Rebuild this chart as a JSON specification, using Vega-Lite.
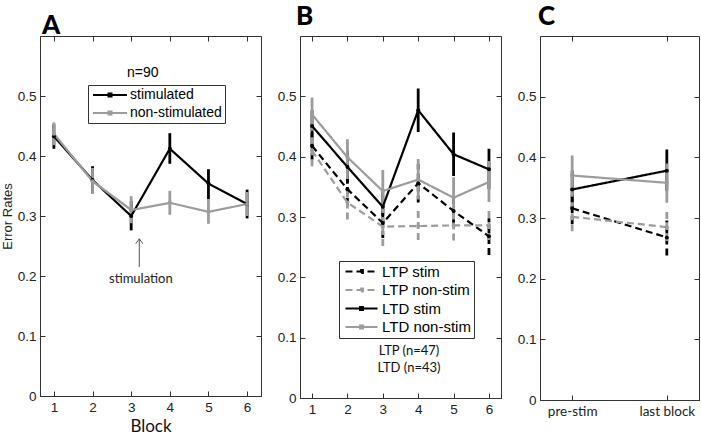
{
  "$schema": "https://vega.github.io/schema/vega-lite/v6.json",
  "background": "white",
  "padding": {"left": 0, "top": 3, "right": 0, "bottom": 0},
  "spacing": 39,
  "bounds": "flush",
  "datasets": {
    "A": [
      {"block": 1, "group": "stimulated", "mean": 0.433, "lo": 0.412, "hi": 0.453},
      {"block": 2, "group": "stimulated", "mean": 0.36, "lo": 0.338, "hi": 0.383},
      {"block": 3, "group": "stimulated", "mean": 0.30, "lo": 0.276, "hi": 0.325},
      {"block": 4, "group": "stimulated", "mean": 0.412, "lo": 0.387, "hi": 0.438},
      {"block": 5, "group": "stimulated", "mean": 0.354, "lo": 0.328, "hi": 0.378},
      {"block": 6, "group": "stimulated", "mean": 0.32, "lo": 0.296, "hi": 0.344},
      {"block": 1, "group": "non-stimulated", "mean": 0.437, "lo": 0.418, "hi": 0.456},
      {"block": 2, "group": "non-stimulated", "mean": 0.358, "lo": 0.337, "hi": 0.38},
      {"block": 3, "group": "non-stimulated", "mean": 0.31, "lo": 0.288, "hi": 0.333},
      {"block": 4, "group": "non-stimulated", "mean": 0.322, "lo": 0.302, "hi": 0.342},
      {"block": 5, "group": "non-stimulated", "mean": 0.307, "lo": 0.287, "hi": 0.328},
      {"block": 6, "group": "non-stimulated", "mean": 0.32, "lo": 0.30, "hi": 0.34}
    ],
    "B": [
      {"block": 1, "group": "LTP stim", "mean": 0.418, "lo": 0.395, "hi": 0.44},
      {"block": 2, "group": "LTP stim", "mean": 0.346, "lo": 0.32, "hi": 0.37},
      {"block": 3, "group": "LTP stim", "mean": 0.29, "lo": 0.265, "hi": 0.315},
      {"block": 4, "group": "LTP stim", "mean": 0.356, "lo": 0.324, "hi": 0.388},
      {"block": 5, "group": "LTP stim", "mean": 0.31, "lo": 0.285, "hi": 0.335},
      {"block": 6, "group": "LTP stim", "mean": 0.268, "lo": 0.237, "hi": 0.298},
      {"block": 1, "group": "LTD stim", "mean": 0.451, "lo": 0.425, "hi": 0.477},
      {"block": 2, "group": "LTD stim", "mean": 0.383, "lo": 0.355, "hi": 0.41},
      {"block": 3, "group": "LTD stim", "mean": 0.317, "lo": 0.29, "hi": 0.345},
      {"block": 4, "group": "LTD stim", "mean": 0.477, "lo": 0.441, "hi": 0.513},
      {"block": 5, "group": "LTD stim", "mean": 0.404, "lo": 0.368, "hi": 0.44},
      {"block": 6, "group": "LTD stim", "mean": 0.379, "lo": 0.346, "hi": 0.413},
      {"block": 1, "group": "LTP non-stim", "mean": 0.41, "lo": 0.384, "hi": 0.437},
      {"block": 2, "group": "LTP non-stim", "mean": 0.324, "lo": 0.296, "hi": 0.349},
      {"block": 3, "group": "LTP non-stim", "mean": 0.284, "lo": 0.252, "hi": 0.313},
      {"block": 4, "group": "LTP non-stim", "mean": 0.285, "lo": 0.262, "hi": 0.31},
      {"block": 5, "group": "LTP non-stim", "mean": 0.286, "lo": 0.261, "hi": 0.311},
      {"block": 6, "group": "LTP non-stim", "mean": 0.286, "lo": 0.262, "hi": 0.31},
      {"block": 1, "group": "LTD non-stim", "mean": 0.47, "lo": 0.443, "hi": 0.498},
      {"block": 2, "group": "LTD non-stim", "mean": 0.399, "lo": 0.363, "hi": 0.429},
      {"block": 3, "group": "LTD non-stim", "mean": 0.343, "lo": 0.31, "hi": 0.378},
      {"block": 4, "group": "LTD non-stim", "mean": 0.362, "lo": 0.329, "hi": 0.396},
      {"block": 5, "group": "LTD non-stim", "mean": 0.332, "lo": 0.296, "hi": 0.366},
      {"block": 6, "group": "LTD non-stim", "mean": 0.358, "lo": 0.325, "hi": 0.393}
    ],
    "C": [
      {"phase": "pre-stim", "group": "LTP stim", "mean": 0.316, "lo": 0.29, "hi": 0.342},
      {"phase": "last block", "group": "LTP stim", "mean": 0.268, "lo": 0.238, "hi": 0.296},
      {"phase": "pre-stim", "group": "LTD stim", "mean": 0.347, "lo": 0.317, "hi": 0.378},
      {"phase": "last block", "group": "LTD stim", "mean": 0.378, "lo": 0.345, "hi": 0.413},
      {"phase": "pre-stim", "group": "LTP non-stim", "mean": 0.302, "lo": 0.278, "hi": 0.326},
      {"phase": "last block", "group": "LTP non-stim", "mean": 0.285, "lo": 0.262, "hi": 0.31},
      {"phase": "pre-stim", "group": "LTD non-stim", "mean": 0.37, "lo": 0.335, "hi": 0.403},
      {"phase": "last block", "group": "LTD non-stim", "mean": 0.358, "lo": 0.325, "hi": 0.39}
    ],
    "one": [{}]
  },
  "resolve": {
    "scale": {"color": "independent", "strokeDash": "independent"},
    "legend": {"color": "independent", "strokeDash": "independent"}
  },
  "hconcat": [
    {
      "width": 221,
      "height": 360,
      "title": {"text": "A", "offset": -3, "dx": 2},
      "resolve": {"axis": {"x": "independent", "y": "independent"}},
      "layer": [
        {
          "data": {"name": "A"},
          "mark": {"type": "rule", "strokeWidth": 2.8},
          "encoding": {
            "x": {"field": "block", "type": "quantitative", "scale": {"domain": [0.64, 6.36], "nice": false, "zero": false},
              "axis": {"orient": "top", "labels": false, "title": null, "domain": false, "values": [1, 2, 3, 4, 5, 6]}},
            "y": {"field": "lo", "type": "quantitative", "scale": {"domain": [0, 0.6], "nice": false},
              "axis": {"orient": "right", "labels": false, "title": null, "domain": false, "values": [0, 0.1, 0.2, 0.3, 0.4, 0.5]}},
            "y2": {"field": "hi"},
            "color": {"field": "group", "type": "nominal", "scale": {"domain": ["stimulated", "non-stimulated"], "range": ["#000000", "#9c9c9c"]}}
          }
        },
        {
          "data": {"name": "A"},
          "mark": {"type": "line", "strokeWidth": 2.2},
          "encoding": {
            "x": {"field": "block", "type": "quantitative",
              "axis": {"values": [1, 2, 3, 4, 5, 6], "title": "Block", "titleFont": "Lato", "titleFontSize": 17, "titlePadding": 5, "titleColor": "#111"}},
            "y": {"field": "mean", "type": "quantitative",
              "axis": {"values": [0, 0.1, 0.2, 0.3, 0.4, 0.5], "labelExpr": "datum.value == 0 ? '0' : format(datum.value, '.1f')", "title": "Error Rates", "titleFontSize": 13, "titlePadding": 3}},
            "color": {"field": "group", "type": "nominal",
              "legend": {"orient": "none", "direction": "vertical", "legendX": 48, "legendY": 49, "title": null,
                "symbolType": "M-3,0H3M-0.25,-0.25H0.25V0.25H-0.25Z", "symbolSize": 128, "symbolStrokeWidth": 2.2,
                "labelFontSize": 14, "labelFont": "Liberation Sans", "labelColor": "#000",
                "strokeColor": "#333", "fillColor": "white", "padding": 3, "rowPadding": 4, "symbolOffset": 12, "labelOffset": 13}}
          }
        },
        {
          "data": {"name": "A"},
          "mark": {"type": "point", "filled": true, "size": 16, "opacity": 1},
          "encoding": {
            "x": {"field": "block", "type": "quantitative", "axis": null},
            "y": {"field": "mean", "type": "quantitative", "axis": null},
            "color": {"field": "group", "type": "nominal"}
          }
        },
        {
          "data": {"name": "one"},
          "mark": {"type": "text", "font": "Liberation Sans", "fontSize": 14, "color": "#000", "align": "center", "baseline": "middle"},
          "encoding": {
            "x": {"datum": 3.3, "type": "quantitative", "axis": null},
            "y": {"datum": 0.538, "type": "quantitative", "axis": null},
            "text": {"value": "n=90"}
          }
        },
        {
          "data": {"name": "one"},
          "mark": {"type": "text", "font": "Lato", "fontSize": 13, "color": "#222", "align": "center", "baseline": "middle"},
          "encoding": {
            "x": {"datum": 3.25, "type": "quantitative", "axis": null},
            "y": {"datum": 0.195, "type": "quantitative", "axis": null},
            "text": {"value": "stimulation"}
          }
        },
        {
          "data": {"name": "one"},
          "mark": {"type": "rule", "color": "#555", "strokeWidth": 1},
          "encoding": {
            "x": {"datum": 3.21, "type": "quantitative", "axis": null},
            "y": {"datum": 0.215, "type": "quantitative", "axis": null},
            "y2": {"datum": 0.262}
          }
        },
        {
          "data": {"name": "one"},
          "mark": {"type": "point", "shape": "M-1,1.4L0,0L1,1.4", "filled": false, "size": 49, "color": "#555", "strokeWidth": 1, "opacity": 1},
          "encoding": {
            "x": {"datum": 3.21, "type": "quantitative", "axis": null},
            "y": {"datum": 0.262, "type": "quantitative", "axis": null}
          }
        }
      ]
    },
    {
      "width": 201,
      "height": 362,
      "title": {"text": "B", "offset": 6, "dx": -4},
      "resolve": {"axis": {"x": "independent", "y": "independent"}},
      "layer": [
        {
          "data": {"name": "B"},
          "mark": {"type": "rule", "strokeWidth": 2.8},
          "encoding": {
            "x": {"field": "block", "type": "quantitative", "scale": {"domain": [0.66, 6.34], "nice": false, "zero": false},
              "axis": {"orient": "top", "labels": false, "title": null, "domain": false, "values": [1, 2, 3, 4, 5, 6]}},
            "y": {"field": "lo", "type": "quantitative", "scale": {"domain": [0, 0.6], "nice": false},
              "axis": {"orient": "right", "labels": false, "title": null, "domain": false, "values": [0, 0.1, 0.2, 0.3, 0.4, 0.5]}},
            "y2": {"field": "hi"},
            "color": {"field": "group", "type": "nominal", "scale": {"domain": ["LTP stim", "LTP non-stim", "LTD stim", "LTD non-stim"], "range": ["#000000", "#9c9c9c", "#000000", "#9c9c9c"]}},
            "strokeDash": {"field": "group", "type": "nominal", "scale": {"domain": ["LTP stim", "LTP non-stim", "LTD stim", "LTD non-stim"], "range": [[7, 4], [7, 4], [1, 0], [1, 0]]}}
          }
        },
        {
          "data": {"name": "B"},
          "mark": {"type": "line", "strokeWidth": 2.2},
          "encoding": {
            "x": {"field": "block", "type": "quantitative", "axis": {"values": [1, 2, 3, 4, 5, 6], "title": null}},
            "y": {"field": "mean", "type": "quantitative",
              "axis": {"values": [0, 0.1, 0.2, 0.3, 0.4, 0.5], "labelExpr": "datum.value == 0 ? '0' : format(datum.value, '.1f')", "title": null}},
            "color": {"field": "group", "type": "nominal",
              "legend": {"orient": "none", "direction": "vertical", "legendX": 39, "legendY": 225, "title": null,
                "symbolType": "M-3,0H3M-0.25,-0.25H0.25V0.25H-0.25Z", "symbolSize": 114, "symbolStrokeWidth": 2.2,
                "labelFontSize": 15, "labelFont": "Liberation Sans", "labelColor": "#000",
                "strokeColor": "#333", "fillColor": "white", "padding": 3, "rowPadding": 2.5, "symbolOffset": 12, "labelOffset": 13}},
            "strokeDash": {"field": "group", "type": "nominal",
              "legend": {"orient": "none", "direction": "vertical", "legendX": 39, "legendY": 225, "title": null,
                "symbolType": "M-3,0H3M-0.25,-0.25H0.25V0.25H-0.25Z", "symbolSize": 114, "symbolStrokeWidth": 2.2,
                "labelFontSize": 15, "labelFont": "Liberation Sans", "labelColor": "#000",
                "strokeColor": "#333", "fillColor": "white", "padding": 3, "rowPadding": 2.5, "symbolOffset": 12, "labelOffset": 13}}
          }
        },
        {
          "data": {"name": "B"},
          "mark": {"type": "point", "filled": true, "size": 16, "opacity": 1},
          "encoding": {
            "x": {"field": "block", "type": "quantitative", "axis": null},
            "y": {"field": "mean", "type": "quantitative", "axis": null},
            "color": {"field": "group", "type": "nominal"}
          }
        },
        {
          "data": {"name": "one"},
          "mark": {"type": "text", "font": "Lato", "fontSize": 13, "color": "#111", "align": "center", "baseline": "middle"},
          "encoding": {
            "x": {"datum": 3.74, "type": "quantitative", "axis": null},
            "y": {"datum": 0.078, "type": "quantitative", "axis": null},
            "text": {"value": "LTP (n=47)"}
          }
        },
        {
          "data": {"name": "one"},
          "mark": {"type": "text", "font": "Lato", "fontSize": 13, "color": "#111", "align": "center", "baseline": "middle"},
          "encoding": {
            "x": {"datum": 3.74, "type": "quantitative", "axis": null},
            "y": {"datum": 0.0497, "type": "quantitative", "axis": null},
            "text": {"value": "LTD (n=43)"}
          }
        }
      ]
    },
    {
      "width": 159,
      "height": 364,
      "title": {"text": "C", "offset": 6, "dx": -2},
      "resolve": {"axis": {"x": "independent", "y": "independent"}},
      "layer": [
        {
          "data": {"name": "C"},
          "mark": {"type": "rule", "strokeWidth": 2.8},
          "encoding": {
            "x": {"field": "phase", "type": "ordinal", "scale": {"type": "point", "padding": 0.34, "domain": ["pre-stim", "last block"]},
              "axis": {"orient": "top", "labels": false, "title": null, "domain": false}},
            "y": {"field": "lo", "type": "quantitative", "scale": {"domain": [0, 0.6], "nice": false},
              "axis": {"orient": "right", "labels": false, "title": null, "domain": false, "values": [0, 0.1, 0.2, 0.3, 0.4, 0.5]}},
            "y2": {"field": "hi"},
            "color": {"field": "group", "type": "nominal", "legend": null, "scale": {"domain": ["LTP stim", "LTP non-stim", "LTD stim", "LTD non-stim"], "range": ["#000000", "#9c9c9c", "#000000", "#9c9c9c"]}},
            "strokeDash": {"field": "group", "type": "nominal", "legend": null, "scale": {"domain": ["LTP stim", "LTP non-stim", "LTD stim", "LTD non-stim"], "range": [[7, 4], [7, 4], [1, 0], [1, 0]]}}
          }
        },
        {
          "data": {"name": "C"},
          "mark": {"type": "line", "strokeWidth": 2.2},
          "encoding": {
            "x": {"field": "phase", "type": "ordinal", "sort": ["pre-stim", "last block"], "axis": {"title": null, "labelAngle": 0, "labelFont": "Lato", "labelFontSize": 13.5}},
            "y": {"field": "mean", "type": "quantitative",
              "axis": {"values": [0, 0.1, 0.2, 0.3, 0.4, 0.5], "labelExpr": "datum.value == 0 ? '0' : format(datum.value, '.1f')", "title": null}},
            "color": {"field": "group", "type": "nominal", "legend": null},
            "strokeDash": {"field": "group", "type": "nominal", "legend": null}
          }
        },
        {
          "data": {"name": "C"},
          "mark": {"type": "point", "filled": true, "size": 16, "opacity": 1},
          "encoding": {
            "x": {"field": "phase", "type": "ordinal", "sort": ["pre-stim", "last block"], "axis": null},
            "y": {"field": "mean", "type": "quantitative", "axis": null},
            "color": {"field": "group", "type": "nominal", "legend": null}
          }
        }
      ]
    }
  ],
  "config": {
    "view": {"stroke": "#333", "strokeWidth": 1},
    "axis": {"grid": false, "domainColor": "#333", "tickColor": "#333", "tickSize": -5, "labelPadding": 9,
      "labelFont": "Liberation Sans", "labelFontSize": 13.5, "labelColor": "#222",
      "titleFont": "Liberation Sans", "titleFontWeight": "normal", "titleColor": "#222"},
    "title": {"font": "Lato", "fontWeight": 900, "fontSize": 26, "anchor": "start", "frame": "group", "baseline": "alphabetic", "color": "#000"}
  }
}
